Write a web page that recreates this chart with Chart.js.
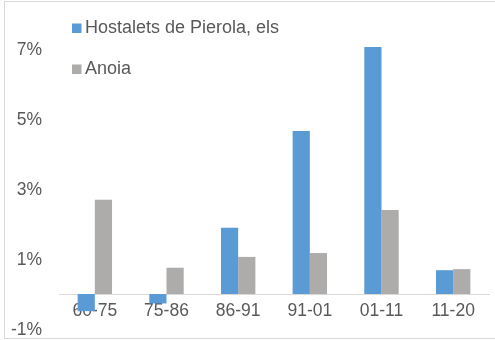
<!DOCTYPE html>
<html>
<head>
<meta charset="utf-8">
<script src="https://cdn.jsdelivr.net/npm/chart.js@4"></script>
<style>
  html, body { margin: 0; padding: 0; background: #fff; overflow: hidden; }
  #wrap { position: relative; width: 495px; height: 340px; }
  #frame { position: absolute; left: 4px; top: 1px; width: 500px; height: 336px; border: 1px solid #D9D9D9; pointer-events: none; }
</style>
</head>
<body>
<div id="wrap">
  <canvas id="chart" width="495" height="340"></canvas>
  <div id="frame"></div>
</div>
<script>
// === DATA ===
const periods = ['60-75', '75-86', '86-91', '91-01', '01-11', '11-20'];
const hostaletsValues = [-0.49, -0.27, 1.89, 4.66, 7.06, 0.68];
const anoiaValues = [2.69, 0.75, 1.06, 1.17, 2.40, 0.71];
const yTicks = [-1, 1, 3, 5, 7];

const COLORS = { blue: '#5B9BD5', gray: '#AEABAB', text: '#595959', axis: '#D9D9D9' };
const FONT = "'Liberation Sans', Arial, sans-serif";

// legend drawn inside the plot, stacked vertically (Excel style)
const insideLegend = {
    id: 'insideLegend',
    afterDraw(chart) {
        const { ctx, chartArea } = chart;
        ctx.save();
        ctx.font = '18px ' + FONT;
        ctx.textBaseline = 'middle';
        chart.data.datasets.forEach((ds, i) => {
            const x = chartArea.left + 13;
            const y = chartArea.top + 14.5 + i * 41;
            ctx.fillStyle = ds.backgroundColor;
            ctx.fillRect(x, y - 5, 9.5, 9.5);
            ctx.fillStyle = COLORS.text;
            ctx.fillText(ds.label, x + 13, y);
        });
        ctx.restore();
    }
};

const ctx = document.getElementById('chart').getContext('2d');
new Chart(ctx, {
    type: 'bar',
    data: {
        labels: periods,
        datasets: [
            { label: 'Hostalets de Pierola, els', data: hostaletsValues, backgroundColor: COLORS.blue },
            { label: 'Anoia', data: anoiaValues, backgroundColor: COLORS.gray }
        ]
    },
    options: {
        responsive: false, animation: false,
        layout: { padding: { left: 0, right: 6, top: 14, bottom: 11 } },
        datasets: { bar: { categoryPercentage: 0.48, barPercentage: 1.0, borderWidth: 0 } },
        plugins: { legend: { display: false }, tooltip: { enabled: false } },
        scales: {
            x: {
                position: { y: 0 },
                grid: { display: false, drawTicks: false },
                border: { display: true, color: COLORS.axis, width: 1 },
                ticks: { color: COLORS.text, padding: 7, font: { size: 17.5, family: FONT } }
            },
            y: {
                min: -1, max: 8,
                afterBuildTicks: s => { s.ticks = yTicks.map(v => ({ value: v })); },
                afterFit: s => { s.width = 59; },
                // invisible tick marks give the gap between labels and plot
                grid: { drawOnChartArea: false, drawTicks: true, tickLength: 17, color: 'rgba(0,0,0,0)' },
                border: { display: false },
                ticks: { color: COLORS.text, padding: 0, labelOffset: 1.5, font: { size: 17.5, family: FONT }, callback: v => v + '%' }
            }
        }
    },
    plugins: [insideLegend]
});
</script>
</body>
</html>
